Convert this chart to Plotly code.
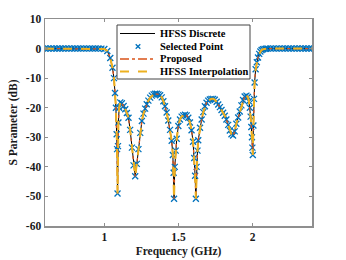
import plotly.graph_objects as go

# Frequency (GHz) and S-parameter (dB)
freq_ghz = [0.60, 0.62, 0.64, 0.66, 0.68, 0.70, 0.72, 0.74, 0.76, 0.78,
            0.80, 0.82, 0.84, 0.86, 0.88, 0.90, 0.92, 0.94, 0.96, 0.98,
            1.00, 1.02, 1.04, 1.055, 1.065, 1.072, 1.078, 1.083, 1.086, 1.089,
            1.092, 1.095, 1.100, 1.107, 1.118, 1.130, 1.141, 1.152, 1.163, 1.174,
            1.186, 1.197, 1.208, 1.219, 1.230, 1.242, 1.253, 1.264, 1.275, 1.286,
            1.297, 1.309, 1.320, 1.332, 1.343, 1.354, 1.365, 1.376, 1.387, 1.398,
            1.409, 1.420, 1.431, 1.443, 1.454, 1.462, 1.467, 1.470, 1.475, 1.481,
            1.488, 1.499, 1.510, 1.521, 1.532, 1.544, 1.555, 1.566, 1.577, 1.588,
            1.598, 1.606, 1.612, 1.617, 1.622, 1.628, 1.633, 1.645, 1.656, 1.667,
            1.678, 1.689, 1.700, 1.711, 1.722, 1.734, 1.745, 1.757, 1.768, 1.779,
            1.790, 1.801, 1.812, 1.823, 1.835, 1.846, 1.857, 1.868, 1.879, 1.890,
            1.902, 1.913, 1.924, 1.935, 1.946, 1.958, 1.968, 1.975, 1.981, 1.986,
            1.991, 1.995, 1.998, 2.001, 2.005, 2.009, 2.013, 2.020, 2.028, 2.036,
            2.044, 2.052, 2.060, 2.070, 2.080, 2.090, 2.10, 2.12, 2.14, 2.16,
            2.18, 2.20, 2.22, 2.24, 2.26, 2.28, 2.30, 2.32, 2.34, 2.36,
            2.38, 2.40]
s_db = [0, 0, 0, 0, 0, 0, 0, 0, 0, 0,
        0, 0, 0, 0, 0, 0, 0, 0, 0, -0.03,
        -0.15, -0.8, -3.2, -6.5, -10, -15, -20, -29, -34, -49,
        -33, -25, -20, -18.2, -18.5, -19.4, -20.5, -21.8, -23.4, -27.5,
        -33.5, -39.5, -43.2, -39, -34, -28.5, -24.5, -22, -20.3, -18.8,
        -17.6, -16.6, -15.9, -15.5, -15.3, -15.3, -15.5, -15.8, -16.5, -17.8,
        -19.5, -21.6, -24.3, -27.5, -31.2, -36, -42, -50.8, -40, -34.5,
        -30.5, -26.2, -24, -23, -22.6, -22.4, -22.6, -23.4, -25, -27.6,
        -31.5, -37, -43, -50.8, -40, -34.5, -31, -26.8, -24, -21.5,
        -19.5, -18.3, -17.6, -17.2, -17, -17, -17.3, -18, -18.9, -19.8,
        -20.8, -21.7, -22.7, -24, -25.8, -27.7, -29, -29.4, -28, -25.4,
        -23.3, -21.3, -19.2, -17.4, -16.2, -15.9, -16.4, -17.8, -20, -23,
        -26.5, -30, -33.5, -36, -26, -17, -11.5, -7, -4.6, -3,
        -1.8, -1.0, -0.5, -0.25, -0.1, -0.05, 0, 0, 0, 0,
        0, 0, 0, 0, 0, 0, 0, 0, 0, 0,
        0, 0]

x_ticks = [1, 1.5, 2]
x_tick_labels = ["1", "1.5", "2"]
y_ticks = [10, 0, -10, -20, -30, -40, -50, -60]
y_tick_labels = ["10", "0", "-10", "-20", "-30", "-40", "-50", "-60"]

series_names = ["HFSS Discrete", "Selected Point", "Proposed", "HFSS Interpolation"]
series_colors = ["black", "#0072BD", "#D95319", "#EDB120"]

serif = "Liberation Serif"
axis_col = "#8f8f8f"
text_col = "#1a1a1a"

W, H = 346, 260
ML, MR, MT, MB = 45, 34, 19, 34
PW, PH = W - ML - MR, H - MT - MB


def px(xp):
    return (xp - ML) / PW


def py(yp):
    return (H - MB - yp) / PH


fig = go.Figure()
fig.add_trace(go.Scatter(x=freq_ghz, y=s_db, mode="lines", name=series_names[0],
                         line=dict(color=series_colors[0], width=1)))
fig.add_trace(go.Scatter(x=freq_ghz, y=s_db, mode="markers", name=series_names[1],
                         marker=dict(symbol="x-thin", size=6, color=series_colors[1],
                                     line=dict(color=series_colors[1], width=1.3))))
fig.add_trace(go.Scatter(x=freq_ghz, y=s_db, mode="lines", name=series_names[2],
                         line=dict(color=series_colors[2], width=1.3, dash="dashdot")))
fig.add_trace(go.Scatter(x=freq_ghz, y=s_db, mode="lines", name=series_names[3],
                         line=dict(color=series_colors[3], width=2, dash="dash")))

# Compact legend drawn as a boxed key (MATLAB-style spacing)
shapes = [dict(type="rect", xref="paper", yref="paper",
               x0=px(117), x1=px(250), y0=py(79), y1=py(25),
               fillcolor="white", line=dict(color="#444444", width=1), layer="above")]
annotations = []
row_y = [33.5, 46.5, 59, 71.5]
line_styles = [("solid", 1), None, ("dashdot", 1.3), ("dash", 2)]
for i, name in enumerate(series_names):
    yy = py(row_y[i])
    if line_styles[i] is not None:
        shapes.append(dict(type="line", xref="paper", yref="paper",
                           x0=px(120), x1=px(155), y0=yy, y1=yy, layer="above",
                           line=dict(color=series_colors[i], width=line_styles[i][1],
                                     dash=line_styles[i][0])))
    else:
        s = 2.3
        shapes.append(dict(type="line", xref="paper", yref="paper",
                           x0=px(138 - s), x1=px(138 + s), y0=py(row_y[i] - s), y1=py(row_y[i] + s),
                           layer="above", line=dict(color=series_colors[i], width=1.3)))
        shapes.append(dict(type="line", xref="paper", yref="paper",
                           x0=px(138 - s), x1=px(138 + s), y0=py(row_y[i] + s), y1=py(row_y[i] - s),
                           layer="above", line=dict(color=series_colors[i], width=1.3)))
    annotations.append(dict(xref="paper", yref="paper", x=px(157.5), y=yy,
                            xanchor="left", yanchor="middle", showarrow=False,
                            text="<b>%s</b>" % name,
                            font=dict(family=serif, size=10.5, color="black")))

fig.update_layout(
    width=W, height=H,
    margin=dict(l=ML, r=MR, t=MT, b=MB),
    paper_bgcolor="white", plot_bgcolor="white",
    font=dict(family=serif, color=text_col),
    showlegend=False,
    shapes=shapes,
    annotations=annotations,
)
fig.update_xaxes(range=[0.6, 2.4], tickmode="array", tickvals=x_ticks, ticktext=x_tick_labels,
                 ticks="inside", ticklen=3, tickcolor=axis_col, showline=True, linecolor=axis_col,
                 linewidth=1.5, mirror="ticks", showgrid=False, zeroline=False, automargin=False,
                 tickfont=dict(family=serif, size=11.5, color=text_col, weight="bold"),
                 title=dict(text="<b>Frequency (GHz)</b>", standoff=4,
                            font=dict(family=serif, size=11.5, color=text_col)))
fig.update_yaxes(range=[-60, 10], tickmode="array", tickvals=y_ticks, ticktext=y_tick_labels,
                 ticks="inside", ticklen=3, tickcolor=axis_col, showline=True, linecolor=axis_col,
                 linewidth=1.5, mirror="ticks", showgrid=False, zeroline=False, automargin=False,
                 tickfont=dict(family=serif, size=11.5, color=text_col, weight="bold"),
                 title=dict(text="<b>S Parameter (dB)</b>", standoff=6,
                            font=dict(family=serif, size=11.5, color=text_col)))

fig.write_html("out.html", config={"displayModeBar": False, "staticPlot": True},
               post_script="document.body.style.margin='0';document.body.style.padding='0';")
